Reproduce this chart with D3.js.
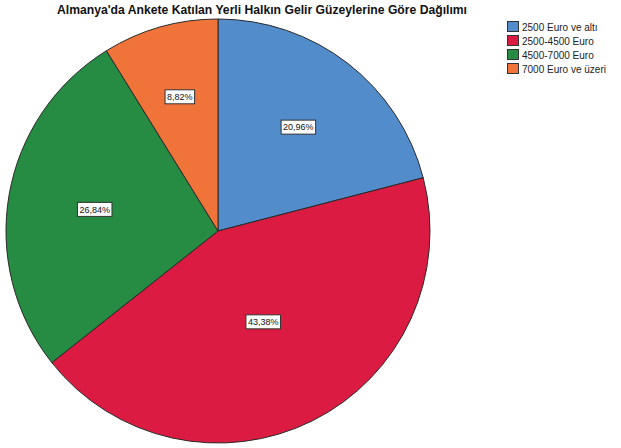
<!DOCTYPE html>
<html><head><meta charset="utf-8">
<script src="https://cdn.jsdelivr.net/npm/d3@7/dist/d3.min.js"></script>
<style>body{margin:0;background:#fff}svg{display:block}</style>
</head><body>
<svg id="c" width="621" height="448"></svg>
<script>
const title = "Almanya'da Ankete Katılan Yerli Halkın Gelir Güzeylerine Göre Dağılımı";
const categories = ["2500 Euro ve altı", "2500-4500 Euro", "4500-7000 Euro", "7000 Euro ve üzeri"];
const values = [20.96, 43.38, 26.84, 8.82];
const labels = ["20,96%", "43,38%", "26,84%", "8,82%"];
const colors = ["#528ccb", "#dc1b42", "#268b43", "#f0733a"];

const svg = d3.select("#c");
const cx = 218, cy = 231, r = 212;

svg.append("text").attr("x", 262).attr("y", 14).attr("text-anchor", "middle")
  .attr("font-family", "Liberation Sans, Arial, sans-serif").attr("font-weight", "bold")
  .attr("font-size", 12).attr("textLength", 410).attr("lengthAdjust", "spacingAndGlyphs")
  .attr("fill", "#111").text(title);

const pie = d3.pie().sort(null).value(d => d)(values);
const arc = d3.arc().innerRadius(0).outerRadius(r);
const g = svg.append("g").attr("transform", `translate(${cx},${cy})`);
g.selectAll("path").data(pie).join("path")
  .attr("d", arc).attr("fill", (d, i) => colors[i])
  .attr("stroke", "#2a2a2a").attr("stroke-width", 1).attr("stroke-linejoin", "round");

// labels at sector centroid
pie.forEach((d, i) => {
  const a = d.endAngle - d.startAngle;
  const mid = (d.startAngle + d.endAngle) / 2;
  const dist = 4 * r * Math.sin(a / 2) / (3 * a);
  const x = dist * Math.sin(mid), y = -dist * Math.cos(mid);
  const lg = g.append("g").attr("transform", `translate(${x},${y})`);
  const t = lg.append("text").attr("text-anchor", "middle").attr("dy", "0.35em")
    .attr("font-family", "Liberation Sans, Arial, sans-serif").attr("font-size", 9)
    .attr("fill", "#111").text(labels[i]);
  const bb = t.node().getBBox();
  lg.insert("rect", "text").attr("x", bb.x - 2).attr("y", -7).attr("width", bb.width + 4).attr("height", 14)
    .attr("fill", "#fff").attr("stroke", "#333").attr("stroke-width", 1);
});

const leg = svg.append("g").attr("transform", "translate(507,21)");
categories.forEach((c, i) => {
  const row = leg.append("g").attr("transform", `translate(0,${i * 14})`);
  row.append("rect").attr("x", 0.5).attr("y", 0.5).attr("width", 11).attr("height", 10)
    .attr("fill", colors[i]).attr("stroke", "#333").attr("stroke-width", 1);
  row.append("text").attr("x", 15).attr("y", 9.5)
    .attr("font-family", "Liberation Sans, Arial, sans-serif").attr("font-size", 10)
    .attr("fill", "#222").text(c);
});
</script>
</body></html>
